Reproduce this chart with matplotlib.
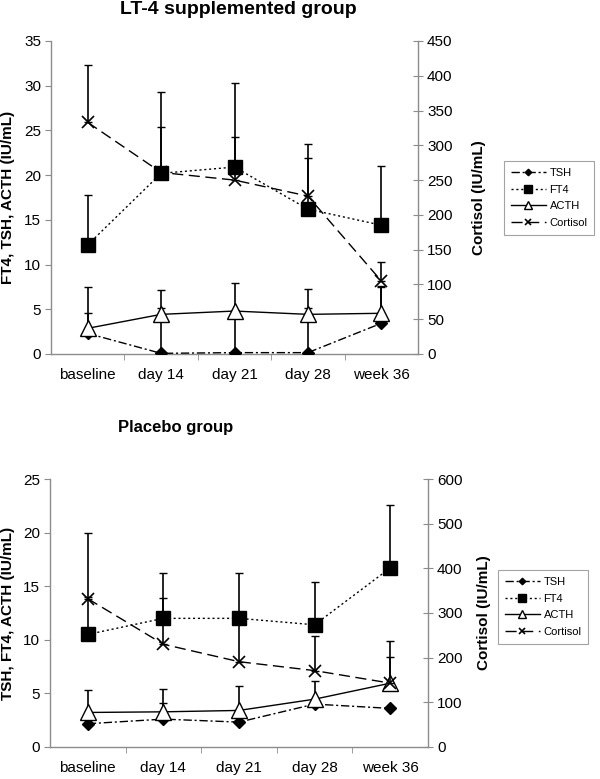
"""
Two dual-axis line charts (LT-4 supplemented group / placebo group) with upward error bars.
"""

import matplotlib
matplotlib.use("Agg")
import matplotlib.pyplot as plt
import numpy as np

plt.rcParams["font.family"] = ["Liberation Sans", "DejaVu Sans"]

timepoints = ["baseline", "day 14", "day 21", "day 28", "week 36"]

# LT-4 supplemented group (left axis: IU/mL, right axis: cortisol)
lt4_tsh = [2.3, 0.07, 0.15, 0.15, 3.43]
lt4_tsh_top = [4.6, 5.1, 4.9, 5.1, 7.5]
lt4_ft4 = [12.2, 20.2, 20.9, 16.2, 14.4]
lt4_ft4_top = [17.8, 29.3, 30.3, 23.5, 21.0]
lt4_acth = [2.87, 4.43, 4.8, 4.43, 4.55]
lt4_acth_top = [7.45, 7.2, 7.9, 7.3, 7.6]
lt4_cortisol = [333, 261, 250, 227, 105]
lt4_cortisol_top = [416, 327, 312, 282, 132]

# Placebo group
pl_tsh = [2.17, 2.6, 2.32, 4.0, 3.6]
pl_tsh_top = [2.2, 4.1, 2.4, 4.1, 3.7]
pl_ft4 = [10.5, 12.0, 12.0, 11.4, 16.7]
pl_ft4_top = [20.0, 16.2, 16.2, 15.4, 22.6]
pl_acth = [3.22, 3.28, 3.41, 4.46, 5.95]
pl_acth_top = [5.3, 5.4, 5.7, 6.2, 8.4]
pl_cortisol = [332, 230, 191, 171, 143]
pl_cortisol_top = [335, 334, 283, 248, 238]

GRAY = "#8c8c8c"
LS_TSH = (0, (6, 2, 1.5, 2))
LS_FT4 = (0, (1.5, 2))
LS_CORT = (0, (8, 4))


def upper_err(vals, tops):
    vals = np.asarray(vals, dtype=float)
    tops = np.asarray(tops, dtype=float)
    return [np.zeros_like(vals), np.clip(tops - vals, 0, None)]


def draw_panel(ax, tsh, tsh_top, ft4, ft4_top, acth, acth_top, cort, cort_top,
               ymax, ystep, rmax, rstep, left_label):
    x = np.arange(len(timepoints))
    ax2 = ax.twinx()

    eb = dict(ecolor="black", elinewidth=1.2, capsize=3, capthick=1.0)
    ax.errorbar(x, tsh, yerr=upper_err(tsh, tsh_top), fmt="none", **eb, zorder=2)
    ax.errorbar(x, ft4, yerr=upper_err(ft4, ft4_top), fmt="none", **eb, zorder=2)
    ax.errorbar(x, acth, yerr=upper_err(acth, acth_top), fmt="none", **eb, zorder=2)
    ax2.errorbar(x, cort, yerr=upper_err(cort, cort_top), fmt="none", **eb, zorder=2)

    h1, = ax.plot(x, tsh, color="black", lw=1.0, linestyle=LS_TSH,
                  marker="D", markersize=6, mfc="black", mec="black", zorder=4)
    h2, = ax.plot(x, ft4, color="black", lw=1.0, linestyle=LS_FT4,
                  marker="s", markersize=10, mfc="black", mec="black", zorder=4)
    h3, = ax.plot(x, acth, color="black", lw=1.0, linestyle="-",
                  marker="^", markersize=11, mfc="white", mec="black", mew=1.0, zorder=5)
    h4, = ax2.plot(x, cort, color="black", lw=1.0, linestyle=LS_CORT,
                   marker="x", markersize=9, mew=1.2, zorder=4)

    ax.set_xlim(-0.5, len(timepoints) - 0.5)
    ax.set_ylim(0, ymax)
    ax2.set_ylim(0, rmax)
    ax.set_yticks(np.arange(0, ymax + 0.1, ystep))
    ax2.set_yticks(np.arange(0, rmax + 0.1, rstep))
    ax.set_xticks(x)
    ax.set_xticklabels(timepoints)
    ax.set_xticks(np.arange(0.5, len(timepoints) - 1), minor=True)

    for a in (ax, ax2):
        a.patch.set_visible(False)
        a.spines["top"].set_visible(False)
        for s in ("left", "right", "bottom"):
            a.spines[s].set_color(GRAY)
            a.spines[s].set_linewidth(1.0)
    ax.spines["right"].set_visible(False)
    ax2.spines["left"].set_visible(False)
    ax2.spines["bottom"].set_visible(False)

    ax.tick_params(axis="y", direction="out", length=4, color=GRAY, labelsize=11, pad=3)
    ax2.tick_params(axis="y", direction="inout", length=7, color=GRAY, labelsize=11, pad=3)
    ax.tick_params(axis="x", which="major", length=0, labelsize=11, pad=10)
    ax.tick_params(axis="x", which="minor", direction="out", length=4, color=GRAY)

    ax.set_ylabel(left_label, fontsize=11, fontweight="bold")
    ax2.set_ylabel("Cortisol (IU/mL)", fontsize=11, fontweight="bold", rotation=90)
    return ax2, [h1, h2, h3, h4]


fig = plt.figure(figsize=(6, 7.79), dpi=100)

ax_top = fig.add_axes([0.085, 0.5456, 0.6117, 0.4018])
ax_top_r, handles = draw_panel(ax_top, lt4_tsh, lt4_tsh_top, lt4_ft4, lt4_ft4_top,
                               lt4_acth, lt4_acth_top, lt4_cortisol, lt4_cortisol_top,
                               35, 5, 450, 50, "FT4, TSH, ACTH (IU/mL)")
ax_top.yaxis.set_label_coords(-0.098, 0.5)
ax_top_r.yaxis.set_label_coords(1.147, 0.5)

ax_bot = fig.add_axes([0.0833, 0.0411, 0.63, 0.344])
ax_bot_r, handles_b = draw_panel(ax_bot, pl_tsh, pl_tsh_top, pl_ft4, pl_ft4_top,
                                 pl_acth, pl_acth_top, pl_cortisol, pl_cortisol_top,
                                 25, 5, 600, 100, "TSH, FT4, ACTH (IU/mL)")
ax_bot.yaxis.set_label_coords(-0.093, 0.5)
ax_bot_r.yaxis.set_label_coords(1.13, 0.5)

fig.text(0.397, 0.988, "LT-4 supplemented group", ha="center", va="center",
         fontsize=14, fontweight="bold")
fig.text(0.292, 0.4506, "Placebo group", ha="center", va="center",
         fontsize=12, fontweight="bold")

names = ["TSH", "FT4", "ACTH", "Cortisol"]
for hs, anchor in ((handles, (0.840, 0.793)), (handles_b, (0.830, 0.268))):
    leg = fig.legend(hs, names, loc="upper left", bbox_to_anchor=anchor,
                     fontsize=8, frameon=True, fancybox=False, handlelength=3.2,
                     markerscale=0.55, labelspacing=0.6, borderpad=0.6,
                     handletextpad=0.3, borderaxespad=0)
    leg.get_frame().set_edgecolor(GRAY)
    leg.get_frame().set_linewidth(0.8)

fig.savefig("out.png", dpi=100)
plt.close(fig)
